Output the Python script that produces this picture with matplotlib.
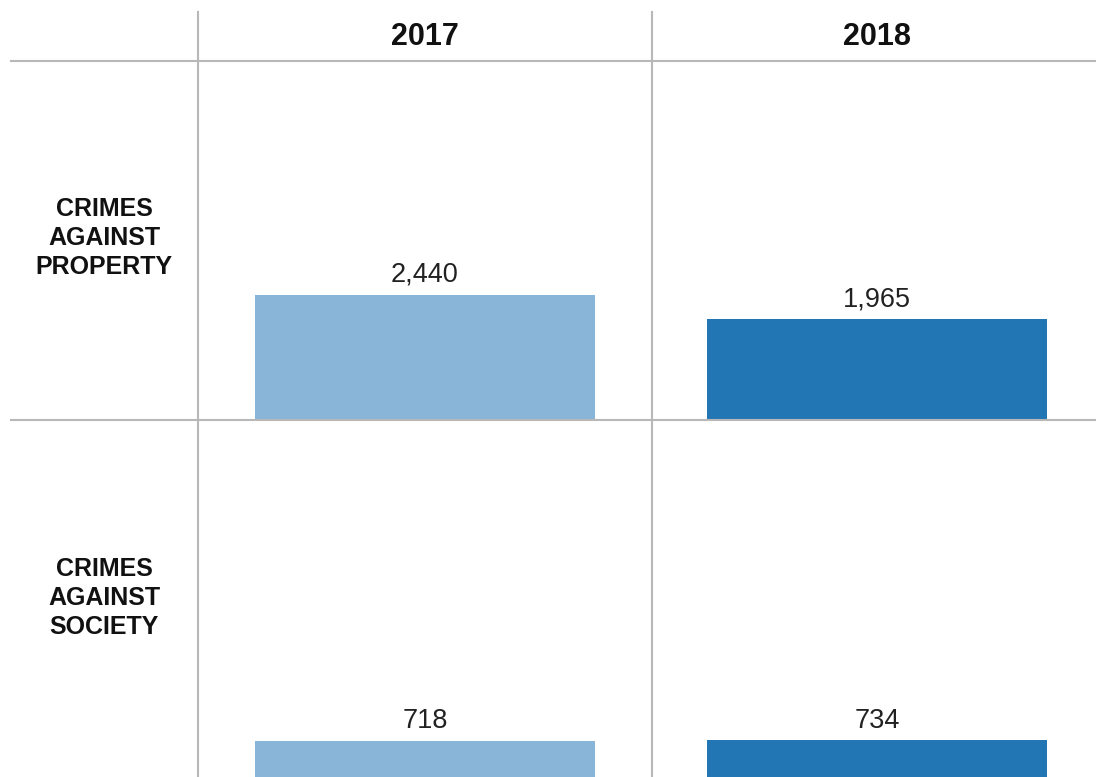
import matplotlib
matplotlib.use('Agg')
import matplotlib.pyplot as plt
from matplotlib.lines import Line2D

# Podatki
years = ['2017', '2018']
categories = ['CRIMES\nAGAINST\nPROPERTY', 'CRIMES\nAGAINST\nSOCIETY']
counts_2017 = [2440, 718]
counts_2018 = [1965, 734]
colors = ['#89b5d9', '#2176b3']

plt.rcParams['font.family'] = ['Liberation Sans', 'DejaVu Sans']

W, H = 1096, 777
fig = plt.figure(figsize=(W / 100, H / 100), dpi=100)

def px_rect(x0, y0, x1, y1):
    # pikslne koordinate (zgoraj levo) -> deleži figure
    return [x0 / W, 1 - y1 / H, (x1 - x0) / W, (y1 - y0) / H]

col_edges = [(198, 652), (650, 1104)]
row_edges = [(61, 420), (420, 778)]
series = [counts_2017, counts_2018]

for r, (y0, y1) in enumerate(row_edges):
    for c, (x0, x1) in enumerate(col_edges):
        ax = fig.add_axes(px_rect(x0, y0, x1, y1))
        val = series[c][r]
        ax.bar([0.5], [val], width=0.75, color=colors[c])
        ax.set_xlim(0, 1)
        ax.set_ylim(0, 7000)
        ax.axis('off')
        ax.annotate(f'{val:,}', xy=(0.5, val), xytext=(0, 5), textcoords='offset points',
                    ha='center', va='bottom', fontsize=19.5, color='#222222')

# oznake vrstic
for r in range(len(categories)):
    yc = [238, 598][r]
    fig.text(104 / W, 1 - yc / H, categories[r], ha='center', va='center',
             fontsize=18, fontweight='bold', linespacing=1.28, color='#111111')

# glava
for c in range(len(years)):
    xc = [425, 877][c]
    fig.text(xc / W, 1 - 37 / H, years[c], ha='center', va='center',
             fontsize=22, fontweight='bold', color='#111111')

# mreža
grid = '#b8b8b8'
for x in [198, 652]:
    fig.add_artist(Line2D([x / W, x / W], [1 - 12 / H, 0], color=grid, lw=1.5))
for y in [61, 420]:
    fig.add_artist(Line2D([11 / W, 1], [1 - y / H, 1 - y / H], color=grid, lw=1.5))

fig.savefig('out.png', dpi=100)
